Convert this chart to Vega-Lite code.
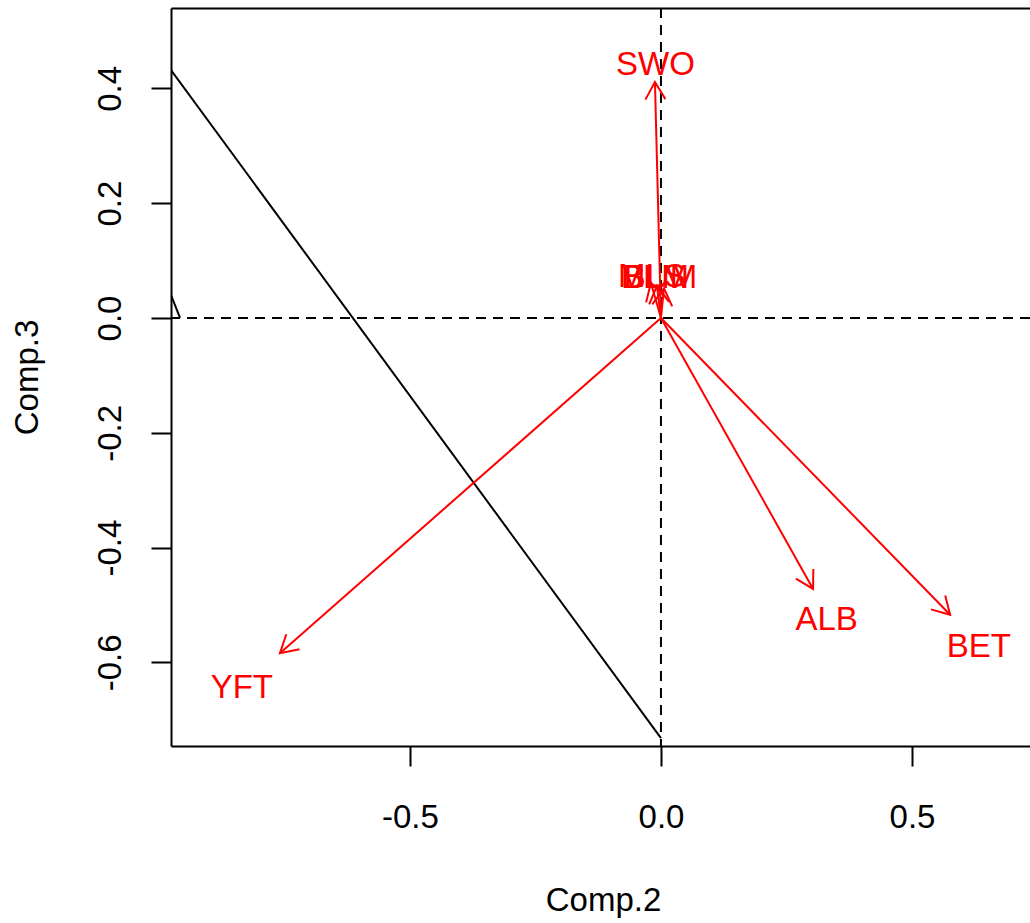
{
  "$schema": "https://vega.github.io/schema/vega-lite/v6.json",
  "width": 859,
  "height": 738,
  "autosize": {"type": "none"},
  "padding": {"left": 171, "top": 8, "right": 0, "bottom": 177},
  "background": "white",
  "config": {
    "view": {"stroke": null},
    "font": "Liberation Sans",
    "axis": {
      "domainColor": "black", "domainWidth": 2,
      "tickColor": "black", "tickWidth": 2, "tickSize": 20,
      "labelFontSize": 33, "labelColor": "black", "labelFont": "Liberation Sans",
      "titleFontSize": 33, "titleFontWeight": "normal", "titleColor": "black", "titleFont": "Liberation Sans",
      "grid": false
    }
  },
  "datasets": {
    "lines": [
      {"seg": "a", "ord": 1, "x": -0.976, "y": 0.432},
      {"seg": "a", "ord": 2, "x": 0.0, "y": -0.732},
      {"seg": "b", "ord": 1, "x": -0.976, "y": 0.040},
      {"seg": "b", "ord": 2, "x": -0.958, "y": 0.0}
    ],
    "arrows": [
      {"sp": "SWO", "x": -0.012, "y": 0.411, "lx": -0.011, "ly": 0.441},
      {"sp": "YFT", "x": -0.759, "y": -0.584, "lx": -0.835, "ly": -0.645},
      {"sp": "ALB", "x": 0.303, "y": -0.472, "lx": 0.330, "ly": -0.526},
      {"sp": "BET", "x": 0.576, "y": -0.517, "lx": 0.633, "ly": -0.573},
      {"sp": "MLS", "x": -0.020, "y": 0.061, "lx": -0.018, "ly": 0.071},
      {"sp": "BUM", "x": -0.008, "y": 0.056, "lx": -0.001, "ly": 0.069},
      {"sp": "BLM", "x": 0.006, "y": 0.052, "lx": -0.012, "ly": 0.070}
    ],
    "origin": [{"v": 0}]
  },
  "resolve": {"axis": {"x": "independent"}},
  "layer": [
    {
      "data": {"name": "lines"},
      "mark": {"type": "line", "color": "black", "strokeWidth": 2, "clip": true},
      "encoding": {
        "x": {
          "field": "x", "type": "quantitative",
          "scale": {"domain": [-0.976, 0.7351], "nice": false, "zero": false},
          "axis": {
            "orient": "bottom", "values": [-0.5, 0, 0.5],
            "labelExpr": "replace(format(datum.value, '.1f'), '\u2212', '-')",
            "labelBaseline": "alphabetic", "labelPadding": 61,
            "title": "Comp.2", "titleBaseline": "alphabetic", "titleY": 164, "titleX": 432, "titleAlign": "center"
          }
        },
        "y": {
          "field": "y", "type": "quantitative",
          "scale": {"domain": [-0.7456, 0.540], "nice": false, "zero": false},
          "axis": {
            "values": [-0.6, -0.4, -0.2, 0, 0.2, 0.4],
            "labelExpr": "replace(format(datum.value, '.1f'), '\u2212', '-')",
            "labelAngle": 270, "labelAlign": "center", "labelBaseline": "alphabetic", "labelPadding": 31,
            "title": "Comp.3", "titleAngle": 270, "titleBaseline": "alphabetic", "titleX": -134, "titleY": 369, "titleAlign": "center"
          }
        },
        "detail": {"field": "seg"},
        "order": {"field": "ord"}
      }
    },
    {
      "data": {"name": "origin"},
      "mark": {"type": "rule", "color": "black", "strokeWidth": 2, "strokeDash": [10, 7]},
      "encoding": {
        "y": {"field": "v", "type": "quantitative"}
      }
    },
    {
      "data": {"name": "origin"},
      "mark": {"type": "rule", "color": "black", "strokeWidth": 2, "strokeDash": [10, 7]},
      "encoding": {
        "x": {"field": "v", "type": "quantitative",
          "axis": {"orient": "top", "labels": false, "ticks": false, "title": null, "domain": true}}
      }
    },
    {
      "data": {"name": "arrows"},
      "mark": {"type": "rule", "color": "red", "strokeWidth": 2},
      "encoding": {
        "x": {"field": "x", "type": "quantitative", "axis": null},
        "y": {"field": "y", "type": "quantitative"},
        "x2": {"datum": 0},
        "y2": {"datum": 0}
      }
    },
    {
      "data": {"name": "arrows"},
      "transform": [{"calculate": "atan2(datum.x*502, datum.y*574)*180/PI", "as": "ang"}],
      "mark": {"type": "point", "shape": "M -0.5 0.866 L 0 0 L 0.5 0.866", "filled": false, "stroke": "red", "strokeWidth": 2, "size": 1600, "opacity": 1},
      "encoding": {
        "x": {"field": "x", "type": "quantitative", "axis": null},
        "y": {"field": "y", "type": "quantitative"},
        "angle": {"field": "ang", "type": "quantitative", "scale": null}
      }
    },
    {
      "data": {"name": "arrows"},
      "mark": {"type": "text", "color": "red", "fontSize": 33, "font": "Liberation Sans", "align": "center", "baseline": "middle"},
      "encoding": {
        "x": {"field": "lx", "type": "quantitative", "axis": null},
        "y": {"field": "ly", "type": "quantitative"},
        "text": {"field": "sp"}
      }
    }
  ]
}
